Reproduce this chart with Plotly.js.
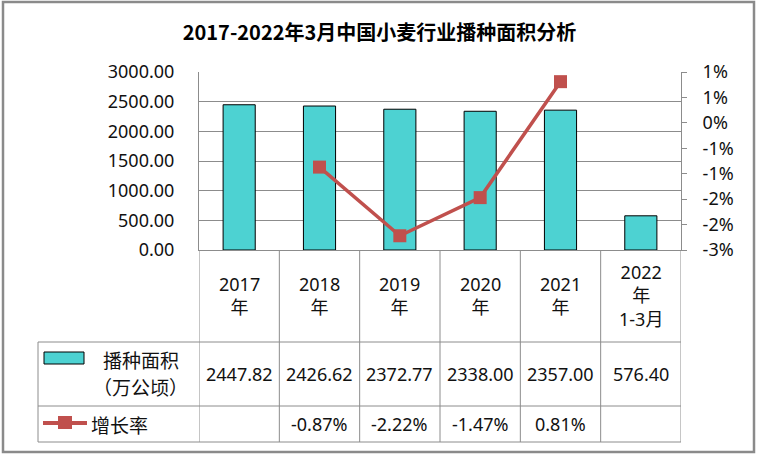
<!DOCTYPE html>
<html>
<head>
<meta charset="utf-8">
<script src="https://cdn.plot.ly/plotly-3.0.1.min.js"></script>
<style>html,body{margin:0;padding:0;background:#fff;}#chart{width:759px;height:456px;}</style>
</head>
<body>
<div id="chart"></div>
<script>
// ---- data ----
const categories = ['2017年', '2018年', '2019年', '2020年', '2021年', '2022年1-3月'];
const headerLabels = ['2017<br>年', '2018<br>年', '2019<br>年', '2020<br>年', '2021<br>年', '2022<br>年<br>1-3月'];
const area = [2447.82, 2426.62, 2372.77, 2338.00, 2357.00, 576.40];
const growth = [null, -0.87, -2.22, -1.47, 0.81, null];
const rightTickVals = [-2.5, -2, -1.5, -1, -0.5, 0, 0.5, 1];
const rightTickText = ['-3%', '-2%', '-2%', '-1%', '-1%', '0%', '1%', '1%'];
const seriesNames = ['播种面积', '（万公顷）', '增长率'];
const titleText = '2017-2022年3月中国小麦行业播种面积分析';

// ---- styling ----
const FONT = 'Noto Sans, Noto Sans CJK SC, sans-serif';
const CJK = 'Noto Sans CJK SC, Noto Sans, sans-serif';
const GRID = '#8c8c8c';
const BAR = '#4dd2d2';
const RED = '#c0504d';
const L = 199, R = 681, T = 72, B = 250;
const PW = R - L, PH = B - T;
const px = x => (x - L) / PW;
const py = y => (B - y) / PH;

const traces = [
  {
    type: 'bar', x: categories, y: area, width: 0.4,
    marker: {color: BAR, line: {color: '#000', width: 1}},
    showlegend: false, hoverinfo: 'skip'
  },
  {
    type: 'scatter', mode: 'lines+markers', x: categories, y: growth, yaxis: 'y2',
    line: {color: RED, width: 3.5},
    marker: {symbol: 'square', size: 13, color: RED},
    showlegend: false, hoverinfo: 'skip'
  }
];

const shapes = [];
const line = (xref, x0, x1, y0, y1, w, c) => shapes.push({type: 'line', xref: xref, yref: 'paper', x0: x0, x1: x1, y0: y0, y1: y1, line: {color: c || GRID, width: w || 1}});
// table verticals at category boundaries
for (let i = 0; i <= categories.length; i++) {
  line('x', i - 0.5, i - 0.5, 0, py(442));
}
// table horizontals
[342, 406, 442].forEach(y => line('paper', px(38), 1, py(y), py(y)));
line('paper', px(38), px(38), py(342), py(442));
// outer border
shapes.push({type: 'rect', xref: 'paper', yref: 'paper', x0: px(3), x1: px(754), y0: py(2), y1: py(452), line: {color: '#8a8a8a', width: 2.5}});
// legend swatches
shapes.push({type: 'rect', xref: 'paper', yref: 'paper', x0: px(44), x1: px(84), y0: py(364), y1: py(352), fillcolor: BAR, line: {color: '#000', width: 1}});
line('paper', px(43), px(87), py(423), py(423), 4, RED);
shapes.push({type: 'rect', xref: 'paper', yref: 'paper', x0: px(58), x1: px(72), y0: py(429), y1: py(416), fillcolor: RED, line: {width: 0}});

const annotations = [];
const ann = (o) => annotations.push(Object.assign({showarrow: false, font: {family: FONT, size: 18, color: '#111'}}, o));
categories.forEach((c, i) => {
  ann({xref: 'x', yref: 'paper', x: i, y: py(295), yanchor: 'middle', text: headerLabels[i]});
  ann({xref: 'x', yref: 'paper', x: i, y: py(374), yanchor: 'middle', text: area[i].toFixed(2)});
  if (growth[i] !== null) ann({xref: 'x', yref: 'paper', x: i, y: py(424), yanchor: 'middle', text: growth[i].toFixed(2) + '%'});
});
ann({xref: 'paper', yref: 'paper', x: px(141), y: py(359), yanchor: 'middle', xanchor: 'center', text: seriesNames[0], font: {family: CJK, size: 19, color: '#111'}});
ann({xref: 'paper', yref: 'paper', x: px(140), y: py(386), yanchor: 'middle', xanchor: 'center', text: seriesNames[1], font: {family: CJK, size: 19, color: '#111'}});
ann({xref: 'paper', yref: 'paper', x: px(89), y: py(424), yanchor: 'middle', xanchor: 'left', text: seriesNames[2], font: {family: CJK, size: 19, color: '#111'}});

const layout = {
  width: 759, height: 456,
  margin: {l: L, r: 759 - R, t: T, b: 456 - B, pad: 0},
  paper_bgcolor: '#fff', plot_bgcolor: '#fff',
  font: {family: FONT, size: 18, color: '#111'},
  title: {text: '<b>' + titleText + '</b>', x: 0.5, xref: 'container', y: 1 - 33 / 456, yref: 'container', yanchor: 'middle', xanchor: 'center', font: {family: CJK, size: 20, color: '#000'}},
  xaxis: {type: 'category', range: [-0.5, 5.5], showticklabels: false, ticks: '', showgrid: false, showline: true, linecolor: GRID, linewidth: 1, zeroline: false, fixedrange: true},
  yaxis: {range: [0, 3000], dtick: 500, tickformat: '.2f', showgrid: true, gridcolor: GRID, gridwidth: 1, showline: true, linecolor: GRID, linewidth: 1, ticks: '', ticklabelstandoff: 20, zeroline: false, tickfont: {family: FONT, size: 18, color: '#111'}, fixedrange: true},
  yaxis2: {overlaying: 'y', side: 'right', range: [-2.5, 1], tickmode: 'array', tickvals: rightTickVals, ticktext: rightTickText, showgrid: false, showline: true, linecolor: GRID, linewidth: 1, ticks: 'outside', ticklen: 5, tickcolor: GRID, ticklabelstandoff: 12, zeroline: false, tickfont: {family: FONT, size: 18, color: '#111'}, fixedrange: true},
  shapes: shapes,
  annotations: annotations,
  showlegend: false,
  bargap: 0.6
};

Plotly.newPlot('chart', traces, layout, {staticPlot: true, displayModeBar: false});
</script>
</body>
</html>
